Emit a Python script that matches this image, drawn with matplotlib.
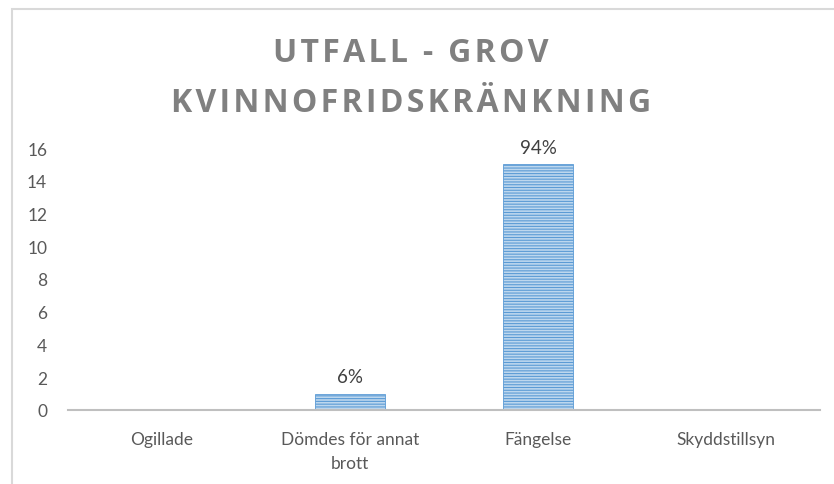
import matplotlib
matplotlib.use("Agg")
import matplotlib.pyplot as plt
from matplotlib.patches import Rectangle

# data
categories = ["Ogillade", "Dömdes för annat\nbrott", "Fängelse", "Skyddstillsyn"]
counts = [0, 1, 15, 0]
labels = ["", "6%", "94%", ""]
yticks = [0, 2, 4, 6, 8, 10, 12, 14, 16]
title_lines = ["UTFALL - GROV", "KVINNOFRIDSKRÄNKNING"]

plt.rcParams['font.family'] = ['Lato', 'DejaVu Sans']
plt.rcParams['hatch.linewidth'] = 0.8

fig = plt.figure(figsize=(8.34, 4.85), dpi=100)
fig.patch.set_facecolor('white')

# light frame around the chart (top and left visible)
fig.patches.append(Rectangle((12 / 834, -0.1), 1.2, 1 - 10 / 485 + 0.1,
                             transform=fig.transFigure, fill=False,
                             edgecolor='#d9d9d9', linewidth=1.5))

ax = fig.add_axes([68 / 834, 1 - 411 / 485, (820 - 68) / 834, (411 - 149) / 485])

x = range(len(categories))
bars = ax.bar(x, counts, width=0.37, color='#bdd7ee', edgecolor='#5b9bd5',
              hatch='------', linewidth=0.6)

for b, lab in zip(bars, labels):
    if lab:
        ax.annotate(lab, (b.get_x() + b.get_width() / 2, b.get_height()),
                    xytext=(0, 6), textcoords='offset points',
                    ha='center', va='bottom', fontsize=13.5, color='#404040')

ax.set_xlim(-0.5, len(categories) - 0.5)
ax.set_ylim(0, 16)
ax.set_yticks(yticks)
ax.set_xticks(list(x))
ax.set_xticklabels(categories, fontsize=12.5, color='#595959', linespacing=1.6)
ax.tick_params(axis='y', length=0, pad=15, labelsize=12.5, labelcolor='#595959')
ax.tick_params(axis='x', length=0, pad=15)

for s in ['left', 'right', 'top']:
    ax.spines[s].set_visible(False)
ax.spines['bottom'].set_color('#bfbfbf')
ax.spines['bottom'].set_linewidth(1.5)

# title with a little letter spacing (hair spaces between letters)
hair = '\u200a'
for ypix, line in zip([53, 104], title_lines):
    spaced = hair.join(line)
    fig.text(0.493, 1 - ypix / 485, spaced, ha='center', va='center',
             fontsize=23, fontweight='bold', color='#808080',
             family=['Open Sans', 'DejaVu Sans'])

fig.savefig('out.png', dpi=100)
